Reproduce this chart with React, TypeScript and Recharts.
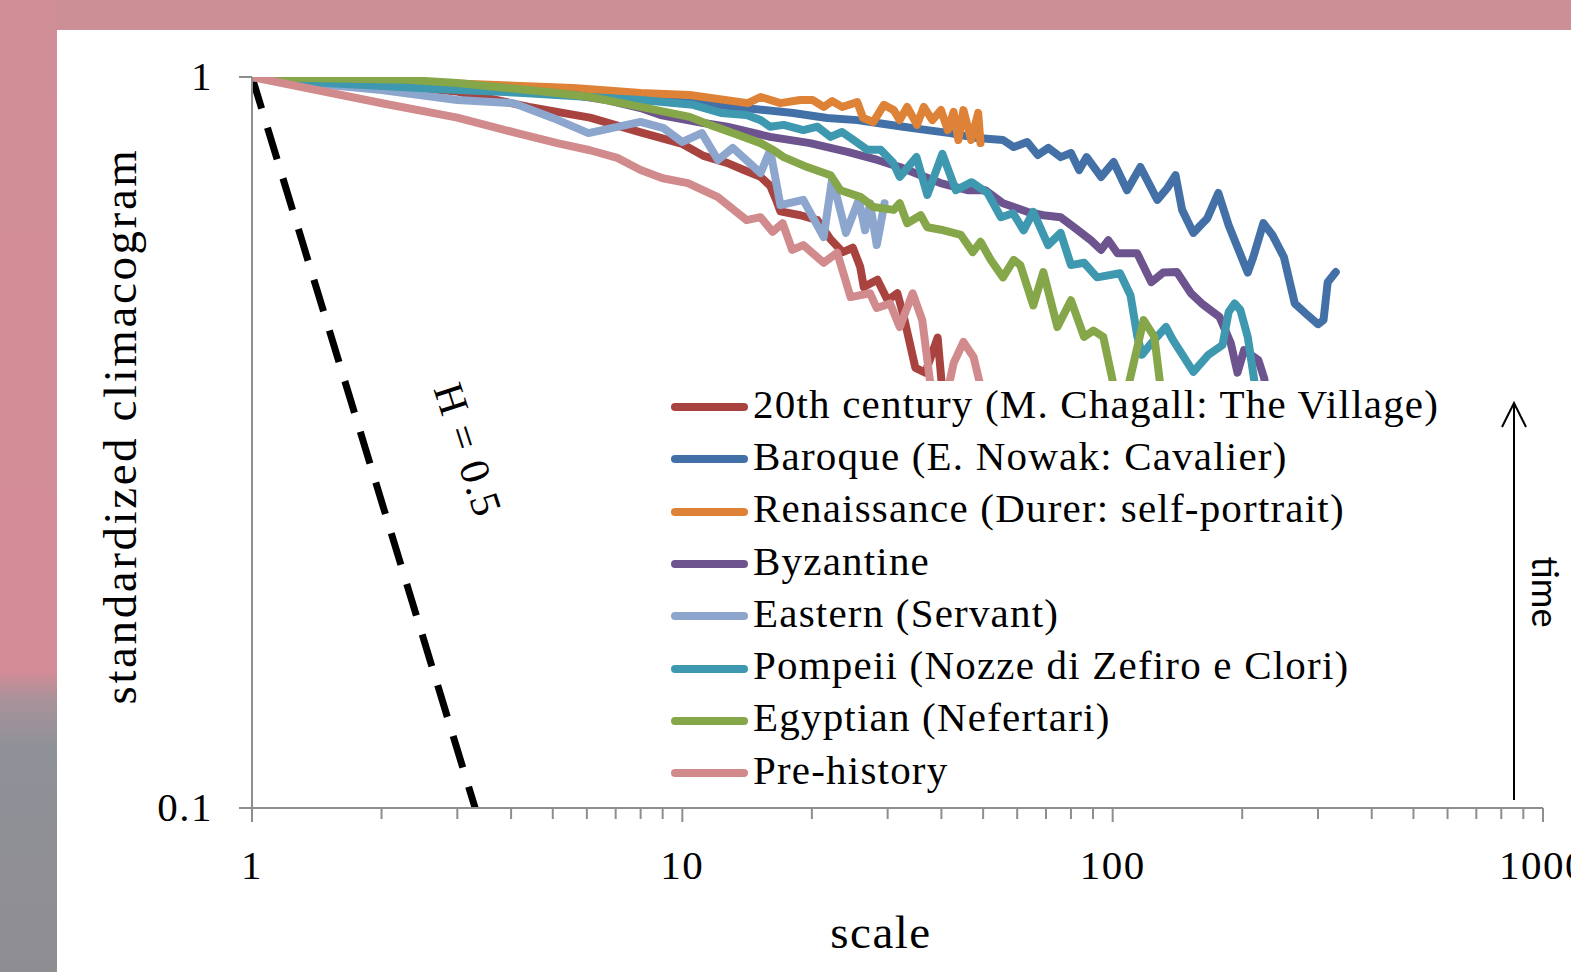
import React from 'react';
import { LineChart, Line, XAxis, YAxis, Legend, Customized } from 'recharts';

type Pt = [number, number];

// scale, standardized climacogram value
const chagall: Pt[] = [
  [1, 1], [2, 0.975], [3, 0.955], [4.4, 0.91], [6.1, 0.88], [8, 0.84], [10, 0.81], [11.2, 0.78],
  [12.7, 0.763], [13.9, 0.746], [15.2, 0.73], [16, 0.71], [16.5, 0.68], [16.9, 0.655], [18.8, 0.647],
  [20.6, 0.637], [22.1, 0.6], [23.6, 0.576], [24.9, 0.584], [25.9, 0.55], [26.4, 0.516], [28.4, 0.528],
  [30, 0.495], [31.6, 0.506], [32.7, 0.47], [34.8, 0.4], [36.7, 0.394], [39.2, 0.44], [40.4, 0.36],
];

const nowak: Pt[] = [
  [1, 1], [2, 0.984], [3, 0.969], [5, 0.951], [8, 0.93], [11.2, 0.921], [13.9, 0.907], [18.1, 0.893],
  [21.7, 0.879], [25.5, 0.873], [28.4, 0.865], [32.6, 0.855], [37.1, 0.846], [41.9, 0.838], [48.5, 0.825],
  [55.6, 0.82], [58.9, 0.802], [63.3, 0.815], [67, 0.782], [70.9, 0.8], [75.7, 0.777], [80, 0.787],
  [83.6, 0.746], [87, 0.777], [94, 0.73], [100.5, 0.765], [108, 0.7], [116, 0.753], [127, 0.679],
  [134, 0.705], [140, 0.734], [145, 0.658], [154, 0.612], [166, 0.641], [176, 0.694], [186, 0.627],
  [206, 0.54], [212, 0.566], [224, 0.631], [235, 0.608], [250, 0.567], [265, 0.49], [284, 0.472],
  [300, 0.459], [309, 0.465], [316, 0.524], [330, 0.541],
];

const durer: Pt[] = [
  [1, 1], [3, 0.98], [5.58, 0.966], [8, 0.951], [10.4, 0.945], [14.2, 0.921], [15.2, 0.939], [16.9, 0.921],
  [18.8, 0.93], [20.1, 0.93], [21.3, 0.91], [22.3, 0.927], [23.5, 0.91], [25.5, 0.924], [26.3, 0.879],
  [27.8, 0.868], [29.4, 0.916], [31, 0.901], [32, 0.873], [33.3, 0.91], [35.1, 0.86], [36.4, 0.91],
  [38.1, 0.873], [39.9, 0.901], [41.4, 0.846], [42.7, 0.896], [43.8, 0.82], [45, 0.901], [46.9, 0.82],
  [48.7, 0.893], [49.3, 0.812],
];

const byzantine: Pt[] = [
  [1, 1], [2, 0.987], [3, 0.978], [3.92, 0.96], [5.58, 0.945], [6.69, 0.93], [8, 0.907], [8.9, 0.887],
  [11.2, 0.865], [12.7, 0.855], [16, 0.828], [19.8, 0.812], [24.2, 0.79], [28.4, 0.77], [32, 0.753],
  [35.8, 0.734], [39.8, 0.716], [46, 0.7], [50.6, 0.7], [55.6, 0.672], [58.9, 0.664], [63.3, 0.654],
  [69, 0.647], [75.7, 0.643], [81.9, 0.621], [89, 0.598], [94, 0.58], [97.7, 0.598], [102.6, 0.574],
  [114, 0.574], [123, 0.524], [131, 0.54], [141, 0.541], [152, 0.506], [161, 0.49], [171, 0.477],
  [177, 0.47], [188, 0.433], [195, 0.394], [202, 0.423], [218, 0.41], [225, 0.387], [230, 0.35],
];

const eastern: Pt[] = [
  [1, 1], [1.34, 0.981], [2, 0.96], [3, 0.93], [4.05, 0.921], [5, 0.879], [6.05, 0.838], [8, 0.868],
  [9.05, 0.851], [10, 0.815], [11.1, 0.838], [12.1, 0.77], [13.1, 0.8], [15.2, 0.739], [16, 0.794],
  [16.9, 0.668], [19.1, 0.679], [21.3, 0.604], [22.3, 0.727], [24, 0.612], [25.7, 0.679], [26.6, 0.617],
  [27.3, 0.672], [28.3, 0.589], [29.5, 0.672],
];

const pompeii: Pt[] = [
  [1, 1], [1.34, 0.984], [3, 0.96], [4.27, 0.951], [6.1, 0.939], [8, 0.93], [10.6, 0.916], [12.3, 0.893],
  [14.1, 0.887], [15.2, 0.873], [16, 0.855], [17.2, 0.86], [19.1, 0.846], [20.6, 0.855], [22.1, 0.828],
  [23.5, 0.841], [25, 0.82], [26.9, 0.795], [28.9, 0.795], [30.9, 0.763], [32, 0.73], [35, 0.777],
  [37.1, 0.69], [40.2, 0.785], [43.2, 0.7], [47, 0.718], [51.2, 0.694], [55, 0.643], [58.7, 0.651],
  [62.1, 0.617], [65.4, 0.654], [70.8, 0.589], [75.7, 0.612], [80, 0.553], [85.8, 0.557], [92, 0.532],
  [104, 0.539], [110, 0.503], [114, 0.443], [117, 0.417], [122, 0.43], [133, 0.455], [138, 0.437],
  [154, 0.395], [167, 0.417], [180, 0.43], [186, 0.477], [192, 0.49], [198, 0.48], [206, 0.441],
  [215, 0.373], [220, 0.34],
];

const egyptian: Pt[] = [
  [1, 1], [1.34, 0.997], [2.29, 0.991], [3, 0.981], [3.92, 0.966], [5.12, 0.951], [6.1, 0.939], [8, 0.91],
  [10.4, 0.882], [11.6, 0.86], [13.1, 0.838], [15.2, 0.812], [16.3, 0.794], [17.2, 0.777], [19.5, 0.753],
  [22.1, 0.734], [23.3, 0.7], [26, 0.685], [27.8, 0.664], [31, 0.658], [32, 0.672], [33.3, 0.631],
  [35.8, 0.647], [37.1, 0.623], [40.5, 0.617], [44.4, 0.608], [47.3, 0.576], [49.3, 0.595], [52.1, 0.562],
  [55.6, 0.532], [58.9, 0.562], [61, 0.553], [65.4, 0.487], [69, 0.541], [74.4, 0.455], [80, 0.495],
  [85.8, 0.441], [90.2, 0.45], [95.1, 0.441], [100.5, 0.379], [105.5, 0.35], [110, 0.389], [118, 0.465],
  [125, 0.441], [129, 0.379], [133, 0.34],
];

const prehistory: Pt[] = [
  [1, 1], [2.02, 0.92], [3, 0.88], [4.13, 0.838], [5.12, 0.812], [6.1, 0.794], [7.06, 0.775], [8, 0.746],
  [9, 0.727], [10.3, 0.716], [12.1, 0.685], [14.1, 0.637], [15.2, 0.643], [16.2, 0.614], [17.1, 0.631],
  [18, 0.58], [19.1, 0.589], [21.3, 0.557], [22.9, 0.575], [24.6, 0.5], [27.3, 0.506], [28.3, 0.483],
  [30.4, 0.49], [32, 0.455], [34.3, 0.506], [36.1, 0.465], [37.6, 0.385], [40, 0.34], [42.7, 0.406],
  [45, 0.434], [47.5, 0.414], [49.3, 0.378], [51, 0.34],
];

// H = 0.5 reference
const hurst: Pt[] = [[1, 1], [3.3, 0.1]];

const xTicks = [1, 2, 3, 4, 5, 6, 7, 8, 9, 10, 20, 30, 40, 50, 60, 70, 80, 90, 100, 200, 300, 400, 500, 600, 700, 800, 900, 1000];
const xMajor = [1, 10, 100, 1000];
const yTicks = [0.1, 1];

const series = [
  { name: '20th century (M. Chagall: The Village)', points: chagall, color: '#A84340' },
  { name: 'Baroque (E. Nowak: Cavalier)', points: nowak, color: '#4270A7' },
  { name: 'Renaissance (Durer: self-portrait)', points: durer, color: '#DE8237' },
  { name: 'Byzantine', points: byzantine, color: '#6D548E' },
  { name: 'Eastern (Servant)', points: eastern, color: '#8DA6CD' },
  { name: 'Pompeii (Nozze di Zefiro e Clori)', points: pompeii, color: '#3E98AF' },
  { name: 'Egyptian (Nefertari)', points: egyptian, color: '#86A64A' },
  { name: 'Pre-history', points: prehistory, color: '#D18B8C' },
];

const SERIF = "'Liberation Serif', 'Times New Roman', serif";
const AXIS = '#8E8E8E';
const LINE_W = 8;

const toRows = (pts: Pt[]) => pts.map(([x, y]) => ({ x, y }));

const renderXTick = (props: any) => {
  const { x, y, payload } = props;
  const major = xMajor.includes(payload.value);
  return (
    <g>
      <line x1={x} y1={y} x2={x} y2={y + (major ? 14 : 11)} stroke={AXIS} strokeWidth={2} />
      {major && (
        <text x={x} y={y + 71} textAnchor="middle" fontSize={41} letterSpacing={1.5} fontFamily={SERIF} fill="#000">
          {payload.value}
        </text>
      )}
    </g>
  );
};

const renderYTick = (props: any) => {
  const { x, y, payload } = props;
  return (
    <g>
      <line x1={x - 13} y1={y} x2={x} y2={y} stroke={AXIS} strokeWidth={2} />
      <text x={x - 39} y={y + 13} textAnchor="end" fontSize={41} letterSpacing={1.5} fontFamily={SERIF} fill="#000">
        {payload.value}
      </text>
    </g>
  );
};

// legend rows follow the series order, not the library's sorted payload
const renderLegend = () => (
  <div style={{ background: '#fff' }}>
    {series.map((s) => (
      <div key={s.name} style={{ display: 'flex', alignItems: 'center', height: 52.3 }}>
        <div style={{ width: 77, height: 8, borderRadius: 4, background: s.color, marginLeft: 6, marginRight: 5, flex: 'none' }} />
        <span
          style={{
            fontFamily: SERIF, fontSize: 41, letterSpacing: 1.2, lineHeight: 1, color: '#000',
            position: 'relative', top: -3, whiteSpace: 'nowrap',
          }}
        >
          {s.name}
        </span>
      </div>
    ))}
  </div>
);

const Annotations = () => (
  <g>
    <text x={79} y={396} transform="rotate(-90 79 396)" textAnchor="middle" fontSize={47} letterSpacing={2.6} fontFamily={SERIF} fill="#000">
      standardized climacogram
    </text>
    <text x={824} y={918} textAnchor="middle" fontSize={47} letterSpacing={1.5} fontFamily={SERIF} fill="#000">
      scale
    </text>
    <text x={411} y={420} transform="rotate(72 411 420)" textAnchor="middle" dominantBaseline="central" fontSize={42} letterSpacing={1.5} fontFamily={SERIF} fill="#000">
      H = 0.5
    </text>
    <line x1={1457} y1={770} x2={1457} y2={373} stroke="#000" strokeWidth={2} />
    <polyline points="1445,397 1457,373 1469,397" fill="none" stroke="#000" strokeWidth={2} />
    <text x={1489} y={562} transform="rotate(90 1489 562)" textAnchor="middle" dominantBaseline="central" fontSize={36} fontFamily="Lato, 'Open Sans', sans-serif" fill="#000">
      time
    </text>
  </g>
);

export default function App() {
  return (
    <div style={{ position: 'fixed', left: 0, top: 0, width: 1571, height: 972, overflow: 'hidden', background: '#CD8F96' }}>
      <div
        style={{
          position: 'absolute', left: 0, top: 0, width: 57, height: 972,
          background: 'linear-gradient(to bottom, #D08E96 0%, #D48C97 69%, #A8929A 72%, #8F9198 77%, #8E8D91 100%)',
        }}
      />
      <div style={{ position: 'absolute', left: 57, top: 30, width: 1514, height: 942, background: '#fff' }}>
        <LineChart width={1514} height={942} margin={{ top: 47, right: 28, bottom: 104, left: 65 }} style={{ fontFamily: SERIF }}>
          <XAxis
            dataKey="x" type="number" scale="log" domain={[1, 1000]} allowDataOverflow
            ticks={xTicks} interval={0} tick={renderXTick} tickLine={false} tickSize={0} tickMargin={0}
            axisLine={{ stroke: AXIS, strokeWidth: 2 }} height={60}
          />
          <YAxis
            dataKey="y" type="number" scale="log" domain={[0.1, 1]} allowDataOverflow
            ticks={yTicks} interval={0} tick={renderYTick} tickLine={false} tickSize={0} tickMargin={0}
            axisLine={{ stroke: AXIS, strokeWidth: 2 }} width={130}
          />
          <Line
            data={toRows(hurst)} dataKey="y" name="H = 0.5" stroke="#000" strokeWidth={7} strokeDasharray="33 20"
            dot={false} activeDot={false} legendType="none" isAnimationActive={false} type="linear"
          />
          {series.map((s) => (
            <Line
              key={s.name} data={toRows(s.points)} dataKey="y" name={s.name} stroke={s.color} strokeWidth={LINE_W}
              strokeLinejoin="round" strokeLinecap="round" style={{ strokeWidth: LINE_W }}
              dot={false} activeDot={false} isAnimationActive={false} type="linear"
            />
          ))}
          <Legend
            layout="vertical" align="center" verticalAlign="middle" content={renderLegend}
            wrapperStyle={{ left: 608, top: 351, width: 790, background: '#fff' }}
          />
          <Customized component={<Annotations />} />
        </LineChart>
      </div>
    </div>
  );
}
